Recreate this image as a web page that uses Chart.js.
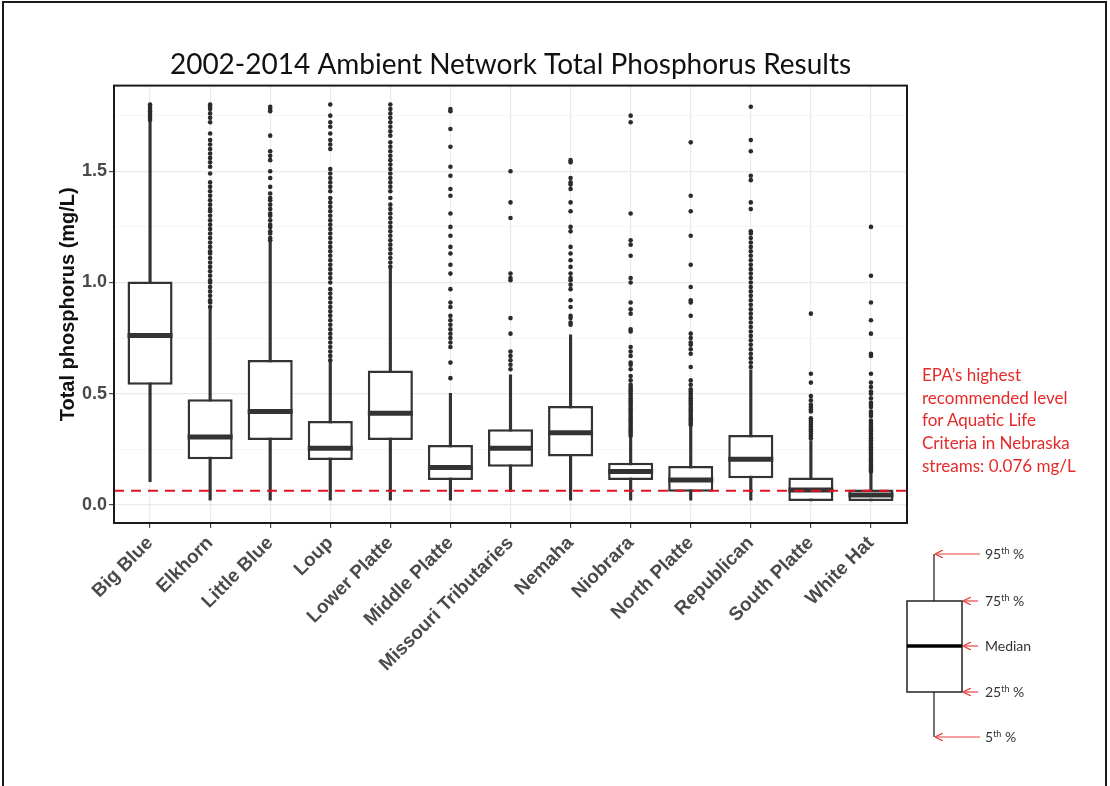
<!DOCTYPE html>
<html>
<head>
<meta charset="utf-8">
<title>Total Phosphorus</title>
<script src="https://cdn.jsdelivr.net/npm/chart.js@4.4.1/dist/chart.umd.min.js"></script>
<style>
  html, body { margin: 0; padding: 0; background: #fff; }
  #wrap { position: relative; width: 1110px; height: 786px; overflow: hidden; }
  #frame { position: absolute; left: 2px; top: 1px; width: 1105px; height: 800px; border: 2px solid #1a1a1a; box-sizing: border-box; }
  #myChart { position: absolute; left: 0; top: 0; }
  #epa { position: absolute; left: 922px; top: 364px; color: #e52a2a; font: 17px Lato, sans-serif; line-height: 22.7px; }
  #key { position: absolute; left: 0; top: 0; }
</style>
</head>
<body>
<div id="wrap">
  <div id="frame"></div>
  <canvas id="myChart" width="1110" height="786"></canvas>
  <div id="epa">EPA’s highest<br>recommended level<br>for Aquatic Life<br>Criteria in Nebraska<br>streams: 0.076 mg/L</div>
  <svg id="key" width="1110" height="786">
    <defs>
      <marker id="arr" markerWidth="8" markerHeight="8" refX="1" refY="4" orient="auto" markerUnits="userSpaceOnUse">
        <path d="M8,0 L0,4 L8,8" fill="none" stroke="#e8413c" stroke-width="1.2"/>
      </marker>
    </defs>
    <line x1="934" y1="554" x2="934" y2="737" stroke="#444" stroke-width="1.5"/>
    <rect x="907" y="601" width="55" height="91" fill="#fff" stroke="#222" stroke-width="1.5"/>
    <line x1="907" y1="646" x2="962" y2="646" stroke="#000" stroke-width="3.5"/>
    <g stroke="#e8413c" stroke-width="1.2" marker-start="url(#arr)">
      <line x1="936" y1="554" x2="980" y2="554"/>
      <line x1="964" y1="601" x2="978" y2="601"/>
      <line x1="964" y1="646" x2="978" y2="646"/>
      <line x1="964" y1="692" x2="978" y2="692"/>
      <line x1="936" y1="737" x2="980" y2="737"/>
    </g>
    <g font-family="Lato, sans-serif" font-size="14" fill="#333">
      <text x="985" y="559">95<tspan font-size="9" dy="-5">th</tspan><tspan dy="5"> %</tspan></text>
      <text x="985" y="606">75<tspan font-size="9" dy="-5">th</tspan><tspan dy="5"> %</tspan></text>
      <text x="985" y="651">Median</text>
      <text x="985" y="697">25<tspan font-size="9" dy="-5">th</tspan><tspan dy="5"> %</tspan></text>
      <text x="985" y="742">5<tspan font-size="9" dy="-5">th</tspan><tspan dy="5"> %</tspan></text>
    </g>
  </svg>
</div>
<script>
var categories = ['Big Blue', 'Elkhorn', 'Little Blue', 'Loup', 'Lower Platte', 'Middle Platte',
  'Missouri Tributaries', 'Nemaha', 'Niobrara', 'North Platte', 'Republican', 'South Platte', 'White Hat'];

var lowWhisker  = [0.105, 0.022, 0.022, 0.022, 0.022, 0.022, 0.060, 0.022, 0.022, 0.022, 0.022, 0.018, 0.018];
var q1          = [0.540, 0.205, 0.292, 0.202, 0.292, 0.112, 0.172, 0.218, 0.112, 0.060, 0.120, 0.018, 0.018];
var medians     = [0.762, 0.306, 0.420, 0.255, 0.412, 0.168, 0.255, 0.325, 0.150, 0.112, 0.205, 0.067, 0.045];
var q3          = [1.005, 0.475, 0.652, 0.378, 0.604, 0.270, 0.340, 0.445, 0.190, 0.175, 0.315, 0.123, 0.070];
var highWhisker = [1.720, 0.880, 1.180, 0.645, 1.060, 0.502, 0.585, 0.765, 0.300, 0.350, 0.607, 0.290, 0.148];

// outlying samples, one list per basin
var outliers = [
  [1.73, 1.74, 1.75, 1.76, 1.77, 1.78, 1.79, 1.80],
  [0.89, 0.91, 0.92, 0.94, 0.96, 0.98, 1.00, 1.01, 1.03, 1.05, 1.07, 1.09, 1.11, 1.13, 1.14, 1.16, 1.18, 1.20, 1.22, 1.24,
   1.26, 1.28, 1.30, 1.32, 1.33, 1.35, 1.37, 1.39, 1.41, 1.43, 1.45, 1.49, 1.52, 1.54, 1.56, 1.58, 1.60, 1.62, 1.64, 1.67,
   1.72, 1.74, 1.76, 1.78, 1.79, 1.80],
  [1.19, 1.20, 1.22, 1.23, 1.25, 1.26, 1.28, 1.30, 1.31, 1.33, 1.35, 1.37, 1.38, 1.40, 1.43, 1.47, 1.50, 1.55, 1.57, 1.59,
   1.66, 1.77, 1.78, 1.79],
  [0.65, 0.67, 0.69, 0.71, 0.73, 0.75, 0.77, 0.79, 0.81, 0.83, 0.85, 0.87, 0.89, 0.91, 0.93, 0.95, 0.97, 1.00, 1.02, 1.04,
   1.06, 1.08, 1.10, 1.12, 1.14, 1.16, 1.18, 1.20, 1.22, 1.24, 1.26, 1.28, 1.30, 1.32, 1.34, 1.36, 1.38, 1.41, 1.43, 1.45,
   1.47, 1.49, 1.51, 1.60, 1.62, 1.64, 1.67, 1.70, 1.72, 1.75, 1.80],
  [1.07, 1.09, 1.11, 1.13, 1.15, 1.17, 1.19, 1.21, 1.23, 1.25, 1.27, 1.29, 1.31, 1.33, 1.35, 1.38, 1.41, 1.43, 1.45, 1.47,
   1.49, 1.51, 1.53, 1.55, 1.57, 1.59, 1.61, 1.63, 1.66, 1.68, 1.70, 1.72, 1.74, 1.76, 1.78, 1.80],
  [0.57, 0.64, 0.71, 0.73, 0.75, 0.77, 0.79, 0.81, 0.83, 0.85, 0.89, 0.91, 0.97, 1.04, 1.08, 1.13, 1.16, 1.21, 1.25, 1.31,
   1.39, 1.42, 1.48, 1.52, 1.61, 1.69, 1.77, 1.78],
  [0.61, 0.63, 0.65, 0.67, 0.69, 0.77, 0.84, 1.01, 1.02, 1.04, 1.29, 1.36, 1.50],
  [0.81, 0.82, 0.84, 0.85, 0.89, 0.92, 0.97, 0.99, 1.01, 1.02, 1.04, 1.07, 1.10, 1.13, 1.16, 1.23, 1.25, 1.32, 1.36, 1.42,
   1.44, 1.45, 1.47, 1.54, 1.55],
  [0.31, 0.32, 0.33, 0.34, 0.35, 0.36, 0.37, 0.38, 0.39, 0.40, 0.41, 0.42, 0.43, 0.44, 0.45, 0.46, 0.47, 0.48, 0.49, 0.50,
   0.51, 0.52, 0.53, 0.54, 0.56, 0.58, 0.61, 0.63, 0.64, 0.67, 0.69, 0.71, 0.78, 0.79, 0.86, 0.88, 0.91, 1.00, 1.02, 1.12,
   1.17, 1.19, 1.31, 1.72, 1.75],
  [0.36, 0.37, 0.38, 0.39, 0.40, 0.41, 0.42, 0.43, 0.44, 0.45, 0.46, 0.47, 0.48, 0.49, 0.50, 0.51, 0.52, 0.54, 0.56, 0.62,
   0.68, 0.70, 0.72, 0.73, 0.75, 0.77, 0.85, 0.91, 0.92, 0.98, 1.08, 1.21, 1.32, 1.39, 1.63],
  [0.62, 0.64, 0.66, 0.68, 0.70, 0.72, 0.74, 0.76, 0.78, 0.80, 0.82, 0.84, 0.86, 0.88, 0.90, 0.92, 0.94, 0.96, 0.98, 1.00,
   1.02, 1.04, 1.06, 1.08, 1.10, 1.12, 1.14, 1.16, 1.18, 1.20, 1.22, 1.23, 1.33, 1.36, 1.46, 1.48, 1.59, 1.64, 1.79],
  [0.30, 0.31, 0.32, 0.33, 0.34, 0.35, 0.36, 0.37, 0.38, 0.39, 0.42, 0.43, 0.44, 0.45, 0.47, 0.49, 0.55, 0.59, 0.86],
  [0.15, 0.16, 0.17, 0.18, 0.19, 0.20, 0.21, 0.22, 0.23, 0.24, 0.25, 0.26, 0.27, 0.28, 0.29, 0.30, 0.31, 0.32, 0.33, 0.34,
   0.35, 0.36, 0.37, 0.38, 0.40, 0.41, 0.42, 0.44, 0.45, 0.46, 0.48, 0.50, 0.51, 0.53, 0.55, 0.59, 0.67, 0.68, 0.77, 0.83,
   0.91, 1.03, 1.25]
];

var yTickValues = [0, 0.5, 1.0, 1.5];
var yTickLabels = ['0.0', '0.5', '1.0', '1.5'];
var epaLevel = 0.064;   // where the dashed line sits in the picture

var xMin = 0.4, xMax = 13.6, yMin = -0.081, yMax = 1.885;

function isMajor(v) {
  return yTickValues.some(function (t) { return Math.abs(t - v) < 1e-6; });
}

var panelBorder = {
  id: 'panelBorder',
  afterDatasetsDraw: function (chart) {
    var a = chart.chartArea, c = chart.ctx;
    c.save();
    c.strokeStyle = '#1a1a1a';
    c.lineWidth = 2;
    c.strokeRect(a.left, a.top, a.right - a.left, a.bottom - a.top);
    c.restore();
  }
};

function renderChart() {
  var ctx = document.getElementById('myChart').getContext('2d');
  var whiskerData = [], boxData = [], medianData = [], outlierData = [];
  categories.forEach(function (c, i) {
    whiskerData.push({x: i + 1, y: [lowWhisker[i], highWhisker[i]]});
    boxData.push({x: i + 1, y: [q1[i], q3[i]]});
    medianData.push({x: i + 1, y: medians[i]});
    outliers[i].forEach(function (v) { outlierData.push({x: i + 1, y: v}); });
  });

  var tickFont = {family: '"Liberation Sans", Arial, sans-serif', size: 18, weight: 'bold'};

  new Chart(ctx, {
    type: 'bar',
    data: {
      datasets: [
        { type: 'line', data: [{x: xMin, y: epaLevel}, {x: xMax, y: epaLevel}], borderColor: '#e0141e',
          borderWidth: 2.2, borderDash: [10, 7], pointRadius: 0, order: 0 },
        { type: 'scatter', data: outlierData, backgroundColor: '#2b2b2b', borderWidth: 0,
          pointRadius: 2.3, order: 1 },
        { type: 'scatter', data: medianData, pointStyle: 'line', pointRadius: 22.5, borderWidth: 5,
          borderColor: '#333', order: 2 },
        { type: 'bar', data: boxData, backgroundColor: '#fff', borderColor: '#333', borderWidth: 2.5,
          borderSkipped: false, barPercentage: 0.75, categoryPercentage: 1, grouped: false, order: 3 },
        { type: 'bar', data: whiskerData, backgroundColor: '#333', borderWidth: 0, barThickness: 2.5,
          grouped: false, order: 4 }
      ]
    },
    options: {
      responsive: false,
      animation: false,
      layout: { padding: { top: 38, left: 0, right: 203, bottom: 0 } },
      plugins: {
        legend: { display: false },
        tooltip: { enabled: false },
        title: {
          display: true, fullSize: false,
          text: '2002-2014 Ambient Network Total Phosphorus Results',
          color: '#111',
          font: { family: 'Lato, sans-serif', size: 28, weight: 'normal' },
          padding: { top: 10, bottom: 4 }
        }
      },
      scales: {
        x: {
          type: 'linear', min: xMin, max: xMax, offset: false,
          afterFit: function (s) { s.height = 263; },
          ticks: {
            stepSize: 1, includeBounds: false, autoSkip: false, maxRotation: 45, minRotation: 45,
            color: '#4a4a4a', font: {family: '"Liberation Sans", Arial, sans-serif', size: 19, weight: 'bold'}, padding: 4,
            callback: function (v) { return categories[Math.round(v) - 1] || ''; }
          },
          grid: { offset: false, color: '#ebebeb', lineWidth: 1.2, tickLength: 5, tickColor: '#4a4a4a' },
          border: { display: false }
        },
        y: {
          min: yMin, max: yMax,
          afterFit: function (s) { s.width = 114; },
          ticks: {
            stepSize: 0.25, includeBounds: false, color: '#4a4a4a', font: tickFont, padding: 2,
            callback: function (v) {
              var k = yTickValues.findIndex(function (t) { return Math.abs(t - v) < 1e-6; });
              return k >= 0 ? yTickLabels[k] : '';
            }
          },
          grid: {
            color: function (c) { return isMajor(c.tick.value) ? '#ebebeb' : '#f4f4f4'; },
            lineWidth: function (c) { return isMajor(c.tick.value) ? 1.2 : 0.8; },
            tickLength: 5,
            tickColor: function (c) { return isMajor(c.tick.value) ? '#4a4a4a' : 'rgba(0,0,0,0)'; }
          },
          border: { display: false },
          title: {
            display: true, text: 'Total phosphorus (mg/L)', color: '#111',
            font: { family: '"Liberation Sans", Arial, sans-serif', size: 20, weight: 'bold' },
            padding: { top: 56, bottom: 0 }
          }
        }
      }
    },
    plugins: [panelBorder]
  });
}

renderChart();
</script>
</body>
</html>
